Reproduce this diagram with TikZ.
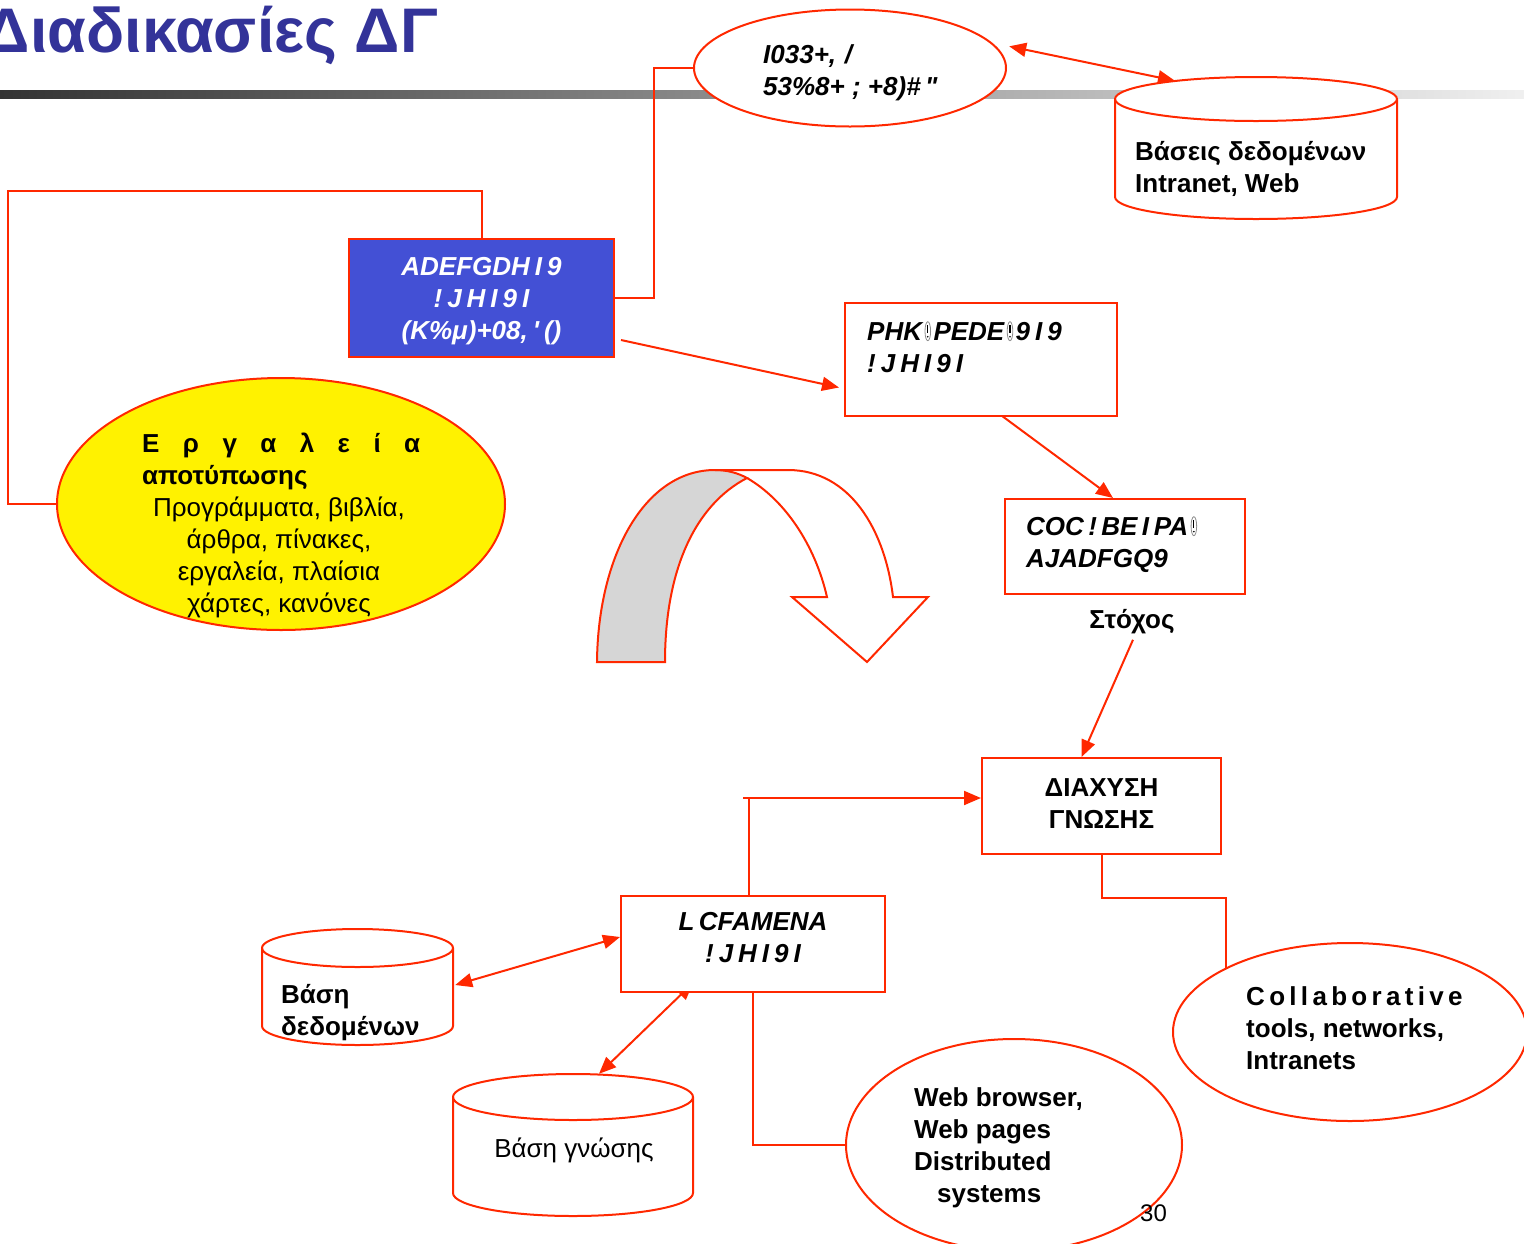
\documentclass[tikz,border=0pt]{standalone}
\usepackage{fontspec}
\setmainfont{Liberation Sans}[Ligatures=TeXOff]
\usetikzlibrary{shapes.geometric,arrows.meta,calc}
\definecolor{rd}{RGB}{255,40,0}
\definecolor{titleblue}{RGB}{51,51,153}
\definecolor{capblue}{RGB}{67,80,213}
\definecolor{arcgray}{RGB}{214,214,214}
\pgfdeclarelayer{bg}
\pgfsetlayers{bg,main}
% strut fixing the height of the first text line
\newcommand\st{\rule{0pt}{22pt}}
% extra gaps between letters
\newcommand\gs{\hspace{5pt}}
\newcommand\ls{\hspace{4.3pt}}
% placeholder glyph (a font that lacks the character)
\newcommand\mg{\hspace{2.5pt}\tikz[baseline=0pt,x=1pt,y=1pt]{\draw[black!45,line width=0.8pt] (0,9) ellipse[x radius=2.8pt,y radius=9.5pt]; \draw[black,line width=1.2pt] (0,15) -- (0,7); \fill[black] (0,3.5) circle[radius=0.9pt];}\hspace{2.5pt}}
\tikzset{
  shapeline/.style={draw=rd,line width=2pt},
  conn/.style={draw=rd,line width=2pt},
  tip/.style={-{Triangle[length=17pt,width=14pt]}},
  dtip/.style={{Triangle[length=17pt,width=14pt]}-{Triangle[length=17pt,width=14pt]}},
  box/.style={shapeline,rectangle,inner sep=0,fill=white},
  oval/.style={shapeline,ellipse,inner sep=0,fill=white},
  txt/.style={inner sep=0,font=\fontsize{26}{32}\selectfont},
  btxt/.style={inner sep=0,font=\fontsize{26}{32}\selectfont\bfseries},
  gtxt/.style={inner sep=0,font=\fontsize{26}{32}\selectfont\bfseries\itshape},
}
% database cylinder: name, left x, right x, top-rim y, bottom-rim y, rim half-height
\newcommand\dbcyl[6]{%
  \node[inner sep=0,minimum width={(#3-#2)*1pt},minimum height={(#5-#4+2*#6)*1pt}] (#1) at ({(#2+#3)/2},{-(#4+#5)/2}) {};
  \draw[shapeline,fill=white] (#2,-#4) -- (#2,-#5) arc[start angle=180,end angle=360,x radius={(#3-#2)/2*1pt},y radius=#6pt] -- (#3,-#4) arc[start angle=0,end angle=180,x radius={(#3-#2)/2*1pt},y radius=#6pt] -- cycle;
  \draw[shapeline] (#2,-#4) arc[start angle=180,end angle=360,x radius={(#3-#2)/2*1pt},y radius=#6pt];
}
\begin{document}
\begin{tikzpicture}[x=1pt,y=1pt]
\useasboundingbox (0,0) rectangle (1524,-1243);

% title
\node[inner sep=0,anchor=base east,text=titleblue,font=\fontsize{63}{70}\selectfont\bfseries] (title) at (438,-52) {Διαδικασίες ΔΓ};

% shapes
\node[oval,minimum width=312pt,minimum height=117pt] (proc) at (850,-68) {};
\dbcyl{dbweb}{1115}{1397}{99}{197}{22}
\node[box,fill=capblue,minimum width=265pt,minimum height=118pt] (capt) at (481.5,-298) {};
\node[box,minimum width=272pt,minimum height=113pt] (phk) at (981,-359.5) {};
\node[oval,fill=yellow,minimum width=448pt,minimum height=252pt] (tools) at (281,-504) {};
\node[box,minimum width=240pt,minimum height=95pt] (coc) at (1125,-546.5) {};
\node[box,minimum width=239pt,minimum height=96pt] (diax) at (1101.5,-806) {};
\node[box,minimum width=264pt,minimum height=96pt] (lcf) at (753,-944) {};
\dbcyl{dbdata}{262}{453}{948}{1026}{19}
\dbcyl{dbknow}{453}{693}{1097}{1193}{23}
\node[oval,minimum width=354pt,minimum height=178pt] (collab) at (1350,-1032) {};
\node[oval,minimum width=336pt,minimum height=212pt] (web) at (1014,-1145) {};

% curved arrow
\draw[shapeline,fill=arcgray] (597,-662) .. controls (598,-555) and (645,-470) .. (715,-470)
  .. controls (727,-470) and (738,-473) .. (747,-478)
  .. controls (695,-505) and (665,-570) .. (665,-662) -- cycle;
\draw[shapeline,line join=miter] (715,-470) -- (788,-470) .. controls (850,-470) and (885,-530) .. (893,-597)
  -- (928,-597) -- (867,-662) -- (792,-597) -- (827,-597)
  .. controls (815,-545) and (785,-500) .. (747,-478);

% texts
\node[gtxt,align=left,anchor=north west] (proctxt) at (763,-41) {\st I033+,\,\,/\\53\%8+ ; +8)\#\,"};
\node[btxt,align=left,anchor=north west] (dbwebtxt) at (1135,-138) {\st Βάσεις δεδομένων\\Intranet, Web};
\node[gtxt,align=center,anchor=north,text=white] (capttxt) at (481.5,-253) {\st ADEFGDH\gs I\gs 9\\!\gs J\gs H\gs I\gs 9\gs I\\(K\%μ)+08,\gs'\gs()};
\node[gtxt,align=left,anchor=north west] (phktxt) at (867,-318) {\st PHK\mg PEDE\mg 9\gs I\gs 9\\!\gs J\gs H\gs I\gs 9\gs I};
\node[gtxt,align=left,anchor=north west] (coctxt) at (1026,-513) {\st COC\,!\,BE\,I\gs PA\mg\\AJADFGQ9};
\node[btxt,anchor=north] (goal) at (1132,-606) {\st Στόχος};
\node[btxt,align=center,anchor=north] (diaxtxt) at (1101.5,-774) {\st ΔΙΑΧΥΣΗ\\ΓΝΩΣΗΣ};
\node[gtxt,align=center,anchor=north] (lcftxt) at (753,-908) {\st L\,CFAMENA\\!\gs J\gs H\gs I\gs 9\gs I};
\node[btxt,align=left,anchor=north west] (dbdatatxt) at (281,-981) {\st Βάση\\δεδομένων};
\node[txt,anchor=north] (dbknowtxt) at (574,-1135) {\st Βάση γνώσης};
\node[btxt,align=left,anchor=north west] (collabtxt) at (1246,-983) {\st C\ls o\ls l\ls l\ls a\ls b\ls o\ls r\ls a\ls t\ls i\ls v\ls e\\tools, networks,\\Intranets};
\node[btxt,align=left,anchor=north west] (webtxt) at (914,-1084) {\st Web browser,\\Web pages\\Distributed\\\hspace{23pt}systems};
\node[btxt,align=left,anchor=north west] (toolshead) at (142,-430) {\st\hbox to 278pt{Ε\hfill ρ\hfill γ\hfill α\hfill λ\hfill ε\hfill ί\hfill α}\\αποτύπωσης};
\node[txt,align=center,anchor=north] (toolsbody) at (279,-494) {\st Προγράμματα, βιβλία,\\άρθρα, πίνακες,\\εργαλεία, πλαίσια\\χάρτες, κανόνες};
\node[inner sep=0,anchor=base west,font=\fontsize{24}{28}\selectfont] (pageno) at (1140,-1221) {30};

% rule under the title and connectors, behind the shapes
\begin{pgfonlayer}{bg}
  \shade[left color=black!80,right color=black!6] (0,-90) rectangle (1524,-98);
  \coordinate (k1) at (654,-68);
  \draw[conn] (proc.west) -- (k1) |- (capt.east);
  \coordinate (k2) at (8,-191);
  \draw[conn] (capt.north) |- (k2) |- (tools.west);
  \draw[conn,dtip] ($(proc.8)+(12,1)$) -- ($(dbweb.north)+(-81,-4)$);
  \draw[conn,tip] ($(capt.south east)+(6,18)$) -- ($(phk.west)+(-5,-28)$);
  \draw[conn,tip] ($(phk.south)+(13,7)$) -- ($(coc.north)+(-12,0)$);
  \draw[conn,tip] ($(goal.south)+(1,-6)$) -- ($(diax.north)+(-20,0)$);
  \coordinate (k7) at (743,-798);
  \draw[conn] ($(lcf.north)+(-4,0)$) |- (k7);
  \draw[conn,tip] (k7) -- ($(diax.west)+(0,8)$);
  \coordinate (k8) at (1226,-898);
  \draw[conn] (diax.south) |- (k8) -- (k8 |- collab.center);
  \draw[conn,dtip] ($(dbdata.east)+(2,2)$) -- ($(lcf.west)+(0,7)$);
  \draw[conn,dtip] ($(lcf.south)+(-60,10)$) -- ($(dbknow.north)+(26,0)$);
  \draw[conn] (lcf.south) |- (web.west);
\end{pgfonlayer}
\end{tikzpicture}
\end{document}
